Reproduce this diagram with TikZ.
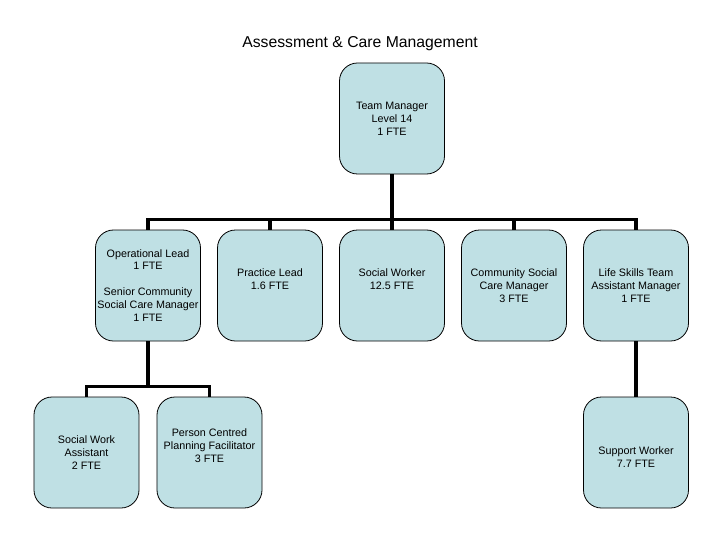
\documentclass[tikz,border=0pt]{standalone}
\usepackage{fontspec}
\setmainfont{Liberation Sans}
\definecolor{boxfill}{RGB}{191,224,228}

\begin{document}
\begin{tikzpicture}[x=1bp,y=-1bp,
  staff/.style={draw,line width=0.8bp,fill=boxfill,rounded corners=18bp,
    minimum width=105bp,minimum height=111bp,inner sep=0pt,align=center,
    font=\fontsize{10.8}{13}\selectfont},
  every child node/.style=staff,
  level distance=167bp,
  level 1/.style={sibling distance=122bp},
  level 2/.style={sibling distance=123bp},
  edge from parent/.style={draw,line width=3.5bp},
  edge from parent path={(\tikzchildnode.north) -- ++(0,-10) -| (\tikzparentnode.south)}]
  \useasboundingbox (0,0) rectangle (720,540);
  \node[anchor=base,font=\fontsize{15.8}{18}\selectfont] (title) at (360,48) {Assessment \& Care Management};
  \node[staff] (tm) at (392,118.5) {Team Manager\\Level 14\\1 FTE}
    child {node (ol) {Operational Lead\\1 FTE\\\mbox{}\\Senior Community\\Social Care Manager\\1 FTE}
      child {node (swa) {Social Work\\Assistant\\2 FTE}}
      child {node (pcpf) {Person Centred\\Planning Facilitator\\3 FTE\\\mbox{}}}
    }
    child {node (pl) {Practice Lead\\1.6 FTE\\\mbox{}}}
    child {node (sw) {Social Worker\\12.5 FTE\\\mbox{}}}
    child {node (cscm) {Community Social\\Care Manager\\3 FTE}}
    child {node (lst) {Life Skills Team\\Assistant Manager\\1 FTE}
      child {node (supw) {\mbox{}\\[4bp]Support Worker\\7.7 FTE}}
    };
\end{tikzpicture}
\end{document}
